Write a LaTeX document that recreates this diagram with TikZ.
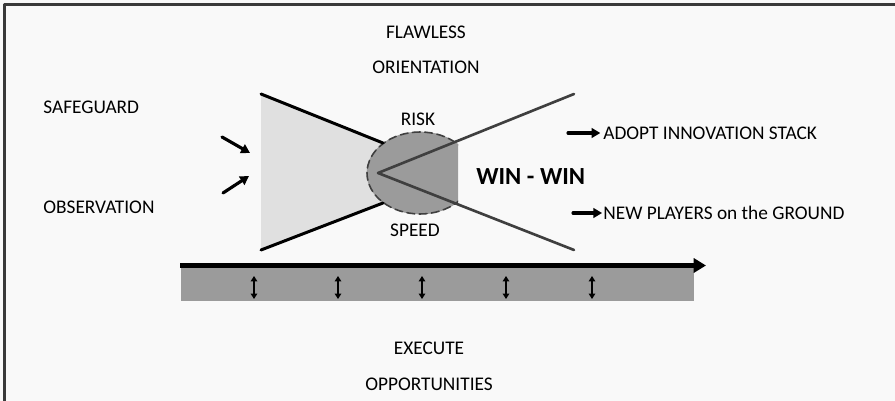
\documentclass[tikz,border=0pt]{standalone}
\usepackage{fontspec}
\usetikzlibrary{arrows.meta}
\setmainfont{Carlito}
\definecolor{paper}{HTML}{F9F9F9}
\definecolor{frame}{HTML}{3A3A3A}
\definecolor{funnel}{HTML}{E0E0E0}
\definecolor{core}{HTML}{9B9B9B}
\definecolor{xline}{HTML}{3F3F3F}
\tikzset{
  lbl/.style={inner sep=0pt, font=\fontsize{11}{13}\selectfont},
  winlbl/.style={inner sep=0pt, font=\bfseries\fontsize{14}{16}\selectfont},
  pointer/.style={-{Triangle[length=5pt,width=5.5pt]}, line width=1.8pt},
  updown/.style={{Triangle[length=3pt,width=3.6pt]}-{Triangle[length=3pt,width=3.6pt]}, line width=1.2pt},
  timeline/.style={-{Triangle[length=7pt,width=8pt]}, line width=2.6pt}
}
\begin{document}
\begin{tikzpicture}[x=0.02cm, y=-0.02cm, >=stealth, line join=round, line cap=round]
	\fill[paper] (0,0) rectangle (895,401);
	\useasboundingbox (0,0) rectangle (895,401);
	\draw[frame, line width=1.8pt, line cap=butt] (4.5,401)--(4.5,4.5)--(895,4.5);
	\path 
	(261,94) coordinate (TL)
	(261,250) coordinate (BL)
	(383,143) coordinate (TC)
	(383,203) coordinate (BC)
	(400,151) coordinate (TF)
	(400,196) coordinate (BF)
	(378,173) coordinate (V)
	(574,94) coordinate (TR)
	(574,250) coordinate (BR)
	(420,173) coordinate (C)
	;
	%funnel and core
	\fill[funnel] (TL)--(TF)--(BF)--(BL)--cycle;
	\begin{scope}
	\clip (0,0) rectangle (458,401);
	\draw[core, fill=core] (C) ellipse [x radius=1.06cm, y radius=0.82cm];
	\draw[xline, line width=0.9pt, dash pattern=on 4.5pt off 2.5pt] (C) ellipse [x radius=1.06cm, y radius=0.82cm];
	\end{scope}
	\draw[line width=1.7pt] (TL)--(TC) (BL)--(BC);
	\draw[xline, line width=1.5pt] (TR)--(V)--(BR);
	%time line
	\fill[core] (181,266) rectangle (694,301);
	\path (180,265.5) coordinate (T0) (706,265.5) coordinate (T1);
	\draw[timeline, line cap=butt] (T0)--(T1);
	\foreach \x [count=\i] in {254,338,422,506,592}
	{
	\path (\x,276) coordinate (u\i) (\x,299) coordinate (d\i);
	\draw[updown, line cap=butt] (u\i)--(d\i);
	}
	%labels
	\node[lbl] (flawless) at (426,32) {FLAWLESS};
	\node[lbl] (orient) at (426,67) {ORIENTATION};
	\node[lbl, anchor=west] (safe) at (43,107) {SAFEGUARD};
	\node[lbl, anchor=west] (obs) at (43,207) {OBSERVATION};
	\node[lbl] (risk) at (418,119) {RISK};
	\node[lbl] (speed) at (415,230) {SPEED};
	\node[winlbl, anchor=west] (win) at (476,177) {WIN - WIN};
	\node[lbl, anchor=west] (adopt) at (603,133) {ADOPT INNOVATION STACK};
	\node[lbl, anchor=west] (players) at (603,213) {NEW PLAYERS on the GROUND};
	\node[lbl] (execute) at (429,348) {EXECUTE};
	\node[lbl] (opp) at (429,384) {OPPORTUNITIES};
	%pointers
	\path 
	(222,137) coordinate (s0) (250,153) coordinate (s1)
	(223,193) coordinate (o0) (249,176) coordinate (o1)
	(568,133) coordinate (a0)
	(573,213) coordinate (p0)
	;
	\draw[pointer] (s0)--(s1);
	\draw[pointer] (o0)--(o1);
	\draw[pointer, shorten >=1.5pt] (a0)--(adopt.west);
	\draw[pointer, shorten >=0.5pt] (p0)--(players.west);
\end{tikzpicture}
\end{document}
